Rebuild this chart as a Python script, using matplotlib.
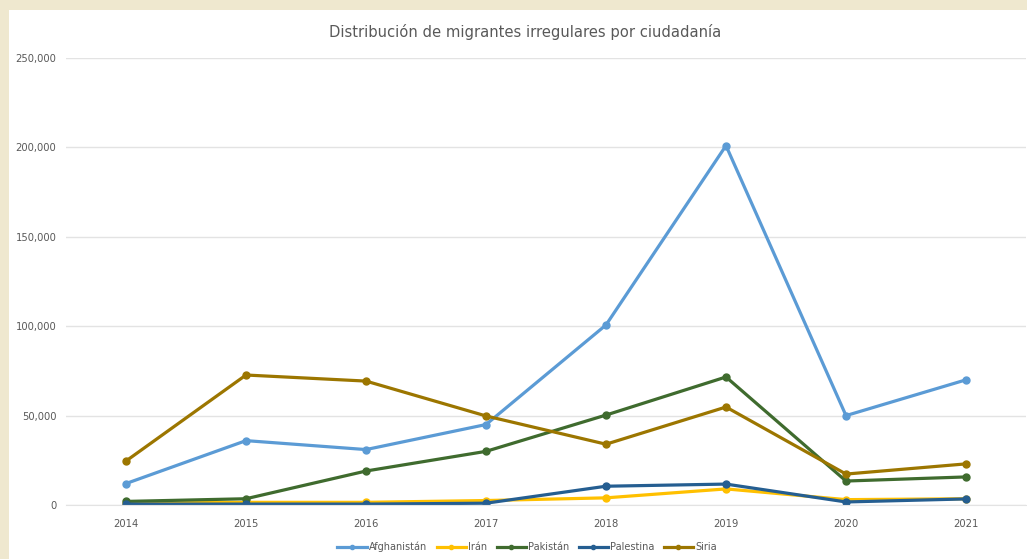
import matplotlib
matplotlib.use('Agg')
import matplotlib.pyplot as plt
from matplotlib.patches import Rectangle
from matplotlib.ticker import FuncFormatter

# data
years = ['2014', '2015', '2016', '2017', '2018', '2019', '2020', '2021']
afghanistan = [12000, 36000, 31000, 45000, 100700, 201000, 50000, 70000]
iran = [1000, 1500, 1500, 2500, 4000, 9000, 3000, 3500]
pakistan = [2000, 3500, 19000, 30000, 50300, 71600, 13400, 15700]
palestina = [500, 500, 500, 1000, 10500, 11700, 1700, 3400]
siria = [24600, 72700, 69300, 49800, 34000, 54800, 17300, 23000]

series = [
    ('Afghanistán', afghanistan, '#5B9BD5'),
    ('Irán', iran, '#FFC000'),
    ('Pakistán', pakistan, '#3F6B2E'),
    ('Palestina', palestina, '#255E91'),
    ('Siria', siria, '#9C7600'),
]

fig = plt.figure(figsize=(10.27, 5.59), dpi=100)
fig.patch.set_facecolor('#EFE8CF')
# white chart panel
fig.add_artist(Rectangle((9 / 1027, 0), 1 - 9 / 1027, 1 - 10 / 559,
                         transform=fig.transFigure, facecolor='white',
                         edgecolor='none', zorder=0))

ax = fig.add_axes([66 / 1027, 1 - 505 / 559, 960 / 1027, 447 / 559])
ax.set_facecolor('none')

x = list(range(len(years)))
for name, vals, col in series:
    ax.plot(x, vals, color=col, lw=2.3, marker='o', ms=5, label=name)

ax.set_xlim(-0.5, len(years) - 0.5)
ax.set_ylim(0, 250000)
ax.set_yticks(range(0, 250001, 50000))
ax.yaxis.set_major_formatter(FuncFormatter(lambda v, p: f'{int(v):,}'))
ax.set_xticks(x)
ax.set_xticklabels(years)
ax.grid(axis='y', color='#E3E3E3', lw=1)
ax.set_axisbelow(True)
for s in ax.spines.values():
    s.set_visible(False)
ax.spines['bottom'].set_visible(True)
ax.spines['bottom'].set_color('#E3E3E3')
ax.tick_params(length=0, labelsize=7.2, colors='#595959')
ax.tick_params(axis='x', pad=10)
ax.tick_params(axis='y', pad=7)

fig.text(525 / 1027, 1 - 32 / 559, 'Distribución de migrantes irregulares por ciudadanía',
         ha='center', va='center', fontsize=10.6, color='#595959')

ax.legend(loc='center', bbox_to_anchor=(527 / 1027, 1 - 547 / 559),
          bbox_transform=fig.transFigure, ncol=5, frameon=False,
          fontsize=7, labelcolor='#595959', handlelength=3,
          columnspacing=1.0, handletextpad=0.2, markerscale=0.6)

fig.savefig('out.png', dpi=100, facecolor=fig.get_facecolor())
